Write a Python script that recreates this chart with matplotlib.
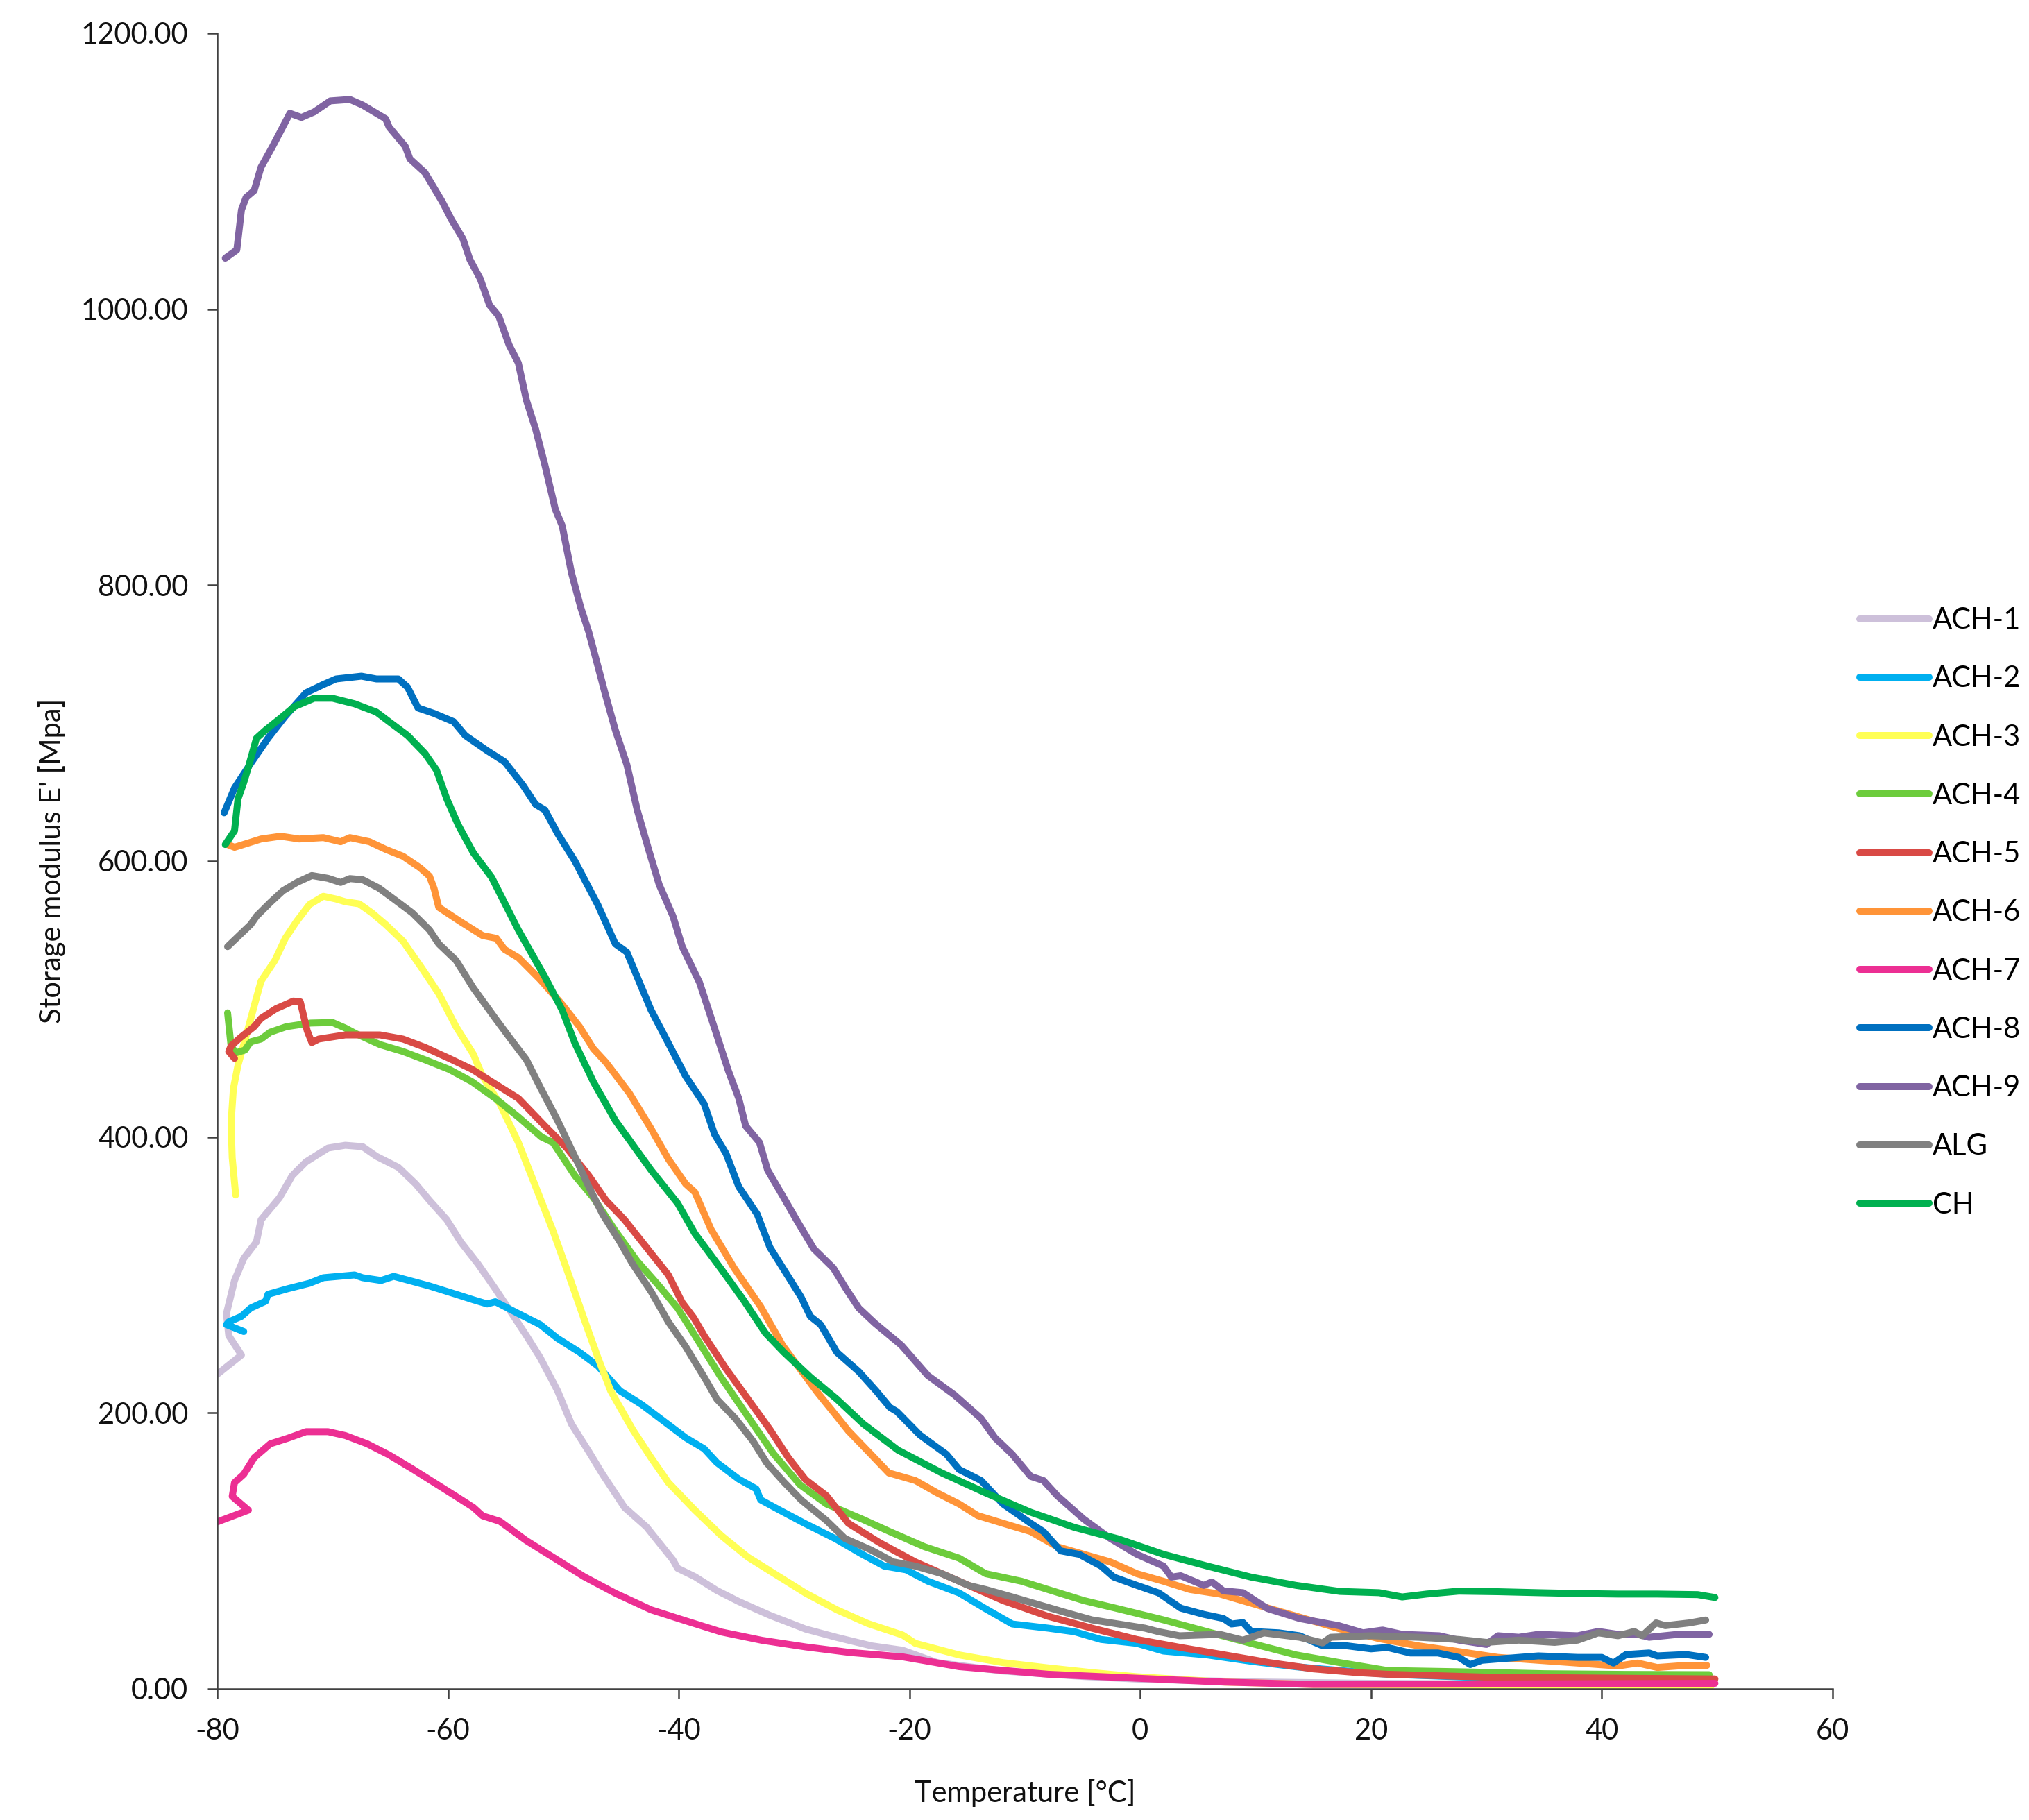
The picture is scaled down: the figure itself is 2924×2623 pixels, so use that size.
import numpy as np
import matplotlib
matplotlib.use("Agg")
import matplotlib.pyplot as plt

plt.rcParams['font.family'] = ['Lato', 'DejaVu Sans']
plt.rcParams['axes.unicode_minus'] = False

# (temperature [°C], storage modulus [MPa])
ach1 = [(-80.0, 228), (-77.9, 242), (-79.0, 256), (-79.2, 272), (-78.5, 296), (-77.7, 312),
        (-76.6, 324), (-76.2, 340), (-75.4, 348), (-74.6, 356), (-73.5, 372), (-72.3, 382),
        (-70.4, 392), (-68.9, 394), (-67.4, 393), (-66.2, 386), (-64.3, 378), (-62.8, 366),
        (-61.6, 354), (-60.1, 340), (-58.9, 324), (-57.4, 308), (-55.9, 290), (-54.3, 270),
        (-53.2, 256), (-52.0, 240), (-50.5, 216), (-49.3, 192), (-47.8, 172), (-46.6, 155.5),
        (-44.7, 131.5), (-42.8, 117.4), (-40.5, 93.4), (-40.1, 87.4), (-38.6, 81.3),
        (-36.7, 71.3), (-34.8, 63.3), (-32.1, 53.3), (-29.0, 43.3), (-26.3, 37.3),
        (-23.3, 31.2), (-20.6, 28), (-17.6, 19), (-12, 13), (-5, 9), (0, 7), (10, 5),
        (20, 4), (35, 3.5), (49.5, 3.2)]

ach2 = [(-77.7, 259), (-79.2, 264), (-79.0, 266), (-77.9, 270), (-77.1, 276), (-75.8, 281),
        (-75.6, 286), (-73.9, 290), (-72.0, 294), (-70.8, 298), (-68.1, 300), (-67.4, 298),
        (-65.8, 296), (-64.7, 299), (-61.6, 292), (-59.3, 286), (-57.8, 282), (-56.6, 279),
        (-55.9, 280.6), (-53.9, 272), (-52.0, 264), (-50.5, 254), (-48.6, 244), (-47.0, 234),
        (-45.1, 216), (-43.2, 206), (-41.3, 194), (-39.4, 182), (-37.8, 174), (-36.7, 164),
        (-34.8, 152), (-33.3, 145), (-32.9, 137), (-31.0, 128.4), (-29.1, 120),
        (-26.4, 108.7), (-24.1, 97.5), (-22.2, 89), (-20.3, 86.3), (-18.4, 78),
        (-15.7, 69.5), (-13.4, 58), (-11.1, 47), (-8.0, 44), (-5.7, 41.4), (-3.4, 35.8),
        (-0.3, 33), (2.0, 27.4), (5.8, 24.6), (9.6, 20), (13.5, 16), (17.3, 13.3),
        (21.4, 10.6), (30, 8), (40, 6.5), (49.5, 6)]

ach3 = [(-78.4, 358), (-78.7, 385), (-78.8, 410), (-78.6, 435), (-78.2, 452), (-77.6, 470),
        (-76.7, 498), (-76.2, 513), (-75.0, 528), (-74.1, 544), (-73.1, 556.5),
        (-72.0, 568.5), (-70.8, 574.5), (-69.7, 572.5), (-68.9, 570.5), (-67.7, 569),
        (-66.6, 562.5), (-65.4, 554), (-63.9, 542), (-62.4, 524), (-60.8, 504), (-59.3, 480),
        (-57.8, 460), (-57.0, 444), (-55.5, 424), (-53.9, 396), (-52.4, 364), (-50.9, 332),
        (-49.7, 304), (-48.2, 268), (-47.0, 240), (-45.9, 216), (-44.0, 188), (-42.4, 167.5),
        (-40.9, 149.5), (-38.6, 129.5), (-36.3, 111), (-34.0, 95.4), (-31.7, 83.4),
        (-29.0, 69.3), (-26.3, 57.3), (-23.6, 47.3), (-20.6, 39), (-19.5, 33),
        (-15.7, 24.6), (-11.9, 19), (-8.0, 15.2), (-4.2, 11.8), (-0.3, 8.8), (7.3, 4.9),
        (15.0, 3.2), (30.0, 2.5), (49.5, 2.3)]

ach4 = [(-79.1, 490), (-78.8, 466), (-78.4, 461), (-77.6, 463), (-77.1, 469), (-76.2, 471),
        (-75.4, 476), (-74.0, 480), (-71.9, 482.6), (-70.0, 483), (-68.9, 479), (-68.0, 475),
        (-65.9, 467), (-63.9, 462), (-62.0, 456), (-59.9, 449), (-57.9, 440), (-55.9, 428),
        (-53.9, 414.5), (-51.9, 400), (-50.9, 396), (-49.0, 372), (-47.4, 356), (-45.5, 332),
        (-43.6, 310), (-41.7, 292), (-40.1, 276), (-38.7, 257.5), (-36.4, 226.6),
        (-34.1, 198.5), (-31.8, 170.5), (-29.5, 148), (-27.2, 134), (-24.1, 123),
        (-21.8, 114.3), (-18.7, 103), (-15.7, 94.7), (-13.4, 83.5), (-10.3, 78), (-8.0, 72),
        (-4.9, 64), (-1.9, 58), (2.0, 50), (5.8, 41.4), (9.6, 33), (13.5, 24.6),
        (17.3, 19), (21.4, 13.3), (27.6, 12.4), (35, 11), (42, 10.5), (49.3, 10.3)]

ach5 = [(-78.5, 457), (-79.0, 462), (-78.8, 466), (-78.0, 472), (-76.8, 480), (-76.2, 486),
        (-74.9, 493), (-73.4, 498.5), (-72.8, 498), (-72.2, 477), (-71.8, 468.5),
        (-71.2, 471), (-68.9, 474), (-65.9, 474), (-63.9, 471), (-62.0, 465), (-59.9, 457),
        (-57.9, 449), (-56.2, 440), (-53.9, 428), (-51.6, 408), (-49.7, 392), (-47.8, 372),
        (-46.3, 354), (-44.7, 340), (-42.8, 320), (-40.9, 300), (-39.7, 280), (-38.7, 269),
        (-37.8, 256), (-35.9, 232), (-34.0, 210), (-32.1, 188), (-30.5, 167.5),
        (-29.0, 151.5), (-27.2, 140), (-25.3, 120), (-22.6, 106), (-19.5, 92), (-15.7, 78),
        (-11.9, 64), (-8.0, 52.6), (-4.2, 44), (-0.3, 35.8), (3.5, 30), (7.3, 24.6),
        (11.2, 19), (15.0, 14.5), (18.8, 11.8), (21.4, 10.6), (30, 8.5), (40, 7.8),
        (49.8, 7.2)]

ach6 = [(-79.1, 612), (-78.5, 610), (-76.2, 616), (-74.5, 618), (-72.9, 616), (-70.8, 617),
        (-69.3, 614), (-68.5, 617), (-66.8, 614), (-65.4, 608.5), (-63.9, 603.5),
        (-62.4, 595), (-61.6, 589), (-61.2, 580), (-60.8, 566.5), (-58.9, 556), (-57.0, 546),
        (-55.8, 544), (-55.1, 536), (-53.9, 530), (-52.0, 514), (-50.1, 496), (-48.6, 480),
        (-47.4, 464), (-46.3, 454), (-44.3, 432), (-42.4, 406), (-40.9, 384), (-39.4, 366),
        (-38.6, 360), (-37.2, 333), (-35.2, 305), (-32.9, 277), (-31.0, 249), (-29.5, 232),
        (-28.0, 215), (-26.4, 198.5), (-25.3, 187), (-23.4, 170.5), (-21.8, 156.5),
        (-19.5, 151), (-17.6, 142), (-15.7, 134), (-14.1, 125.6), (-11.9, 120), (-9.5, 114),
        (-7.2, 103), (-4.9, 97.5), (-2.6, 92), (-0.3, 83.5), (2.0, 78), (4.3, 72),
        (6.9, 68.7), (10.3, 60.4), (13.8, 52), (17.2, 43.7), (20.7, 36.4), (24.1, 31.2),
        (27.6, 27), (31.0, 22.8), (34.5, 20.7), (37.9, 18.7), (41.4, 16.6), (43.1, 18.7),
        (44.8, 15.5), (46.6, 16.6), (49.1, 17.0)]

ach7 = [(-80.0, 121), (-77.3, 129.5), (-78.7, 139.5), (-78.5, 149.5), (-77.7, 155.5),
        (-76.8, 167.5), (-75.4, 177.6), (-73.9, 181.6), (-72.3, 186.4), (-70.4, 186.4),
        (-68.9, 183.6), (-67.0, 177.6), (-65.1, 169.5), (-63.1, 159.5), (-61.2, 149.5),
        (-59.3, 139.5), (-57.8, 131.5), (-57.0, 125.4), (-55.5, 121.4), (-53.2, 107.4),
        (-50.9, 95.4), (-48.2, 81.3), (-45.5, 69.3), (-42.4, 57.3), (-39.4, 49.3),
        (-36.3, 41.2), (-32.8, 35.2), (-29.0, 30.4), (-25.2, 26.4), (-20.6, 23.2),
        (-15.7, 16.1), (-8.0, 10.6), (-0.3, 7.7), (7.3, 4.9), (15.0, 3.2), (30, 3.5),
        (49.8, 4)]

ach8 = [(-79.4, 635), (-78.5, 653), (-77.0, 672), (-75.6, 689), (-74.1, 705), (-72.3, 722),
        (-70.8, 728), (-69.7, 732), (-67.5, 734), (-66.2, 732), (-64.3, 732), (-63.5, 726),
        (-62.6, 711), (-61.2, 707), (-59.5, 701), (-58.5, 691), (-56.6, 680), (-55.1, 672),
        (-53.5, 655), (-52.4, 641), (-51.6, 637), (-50.5, 620), (-49.0, 600), (-47.0, 568),
        (-45.5, 540), (-44.5, 534), (-43.6, 516), (-42.4, 492), (-40.9, 468), (-39.4, 444),
        (-37.8, 424), (-36.9, 402), (-35.9, 388), (-34.8, 364), (-33.2, 344), (-32.1, 320),
        (-30.9, 304), (-29.4, 284), (-28.6, 270), (-27.7, 264), (-26.3, 244), (-24.4, 230),
        (-22.9, 216), (-21.7, 204), (-21.1, 201), (-19.1, 184), (-16.8, 170), (-15.7, 159),
        (-13.8, 151), (-11.9, 134), (-9.5, 120), (-8.4, 114), (-6.9, 100), (-5.3, 97.5),
        (-3.4, 89), (-2.3, 81), (-0.3, 75), (1.6, 69.5), (3.5, 58.5), (5.5, 54), (7.2, 51),
        (7.9, 47), (8.9, 48), (9.6, 41.6), (12.0, 40.6), (13.8, 38.5), (15.8, 31.2),
        (17.9, 31.2), (20.0, 29), (21.4, 30), (23.4, 26), (25.8, 26), (27.6, 22.8),
        (28.6, 17.6), (29.6, 20.7), (32.8, 22.8), (34.5, 23.9), (37.9, 22.8), (40.0, 22.8),
        (41.0, 18.7), (42.1, 24.9), (44.1, 26), (44.8, 23.9), (47.3, 24.9), (49.0, 22.8)]

ach9 = [(-79.3, 1037), (-78.3, 1043), (-77.9, 1072), (-77.5, 1081), (-76.8, 1086),
        (-76.2, 1103), (-75.2, 1118), (-73.7, 1142), (-72.7, 1139), (-71.6, 1143),
        (-70.2, 1151), (-68.5, 1152), (-67.4, 1148), (-65.4, 1138), (-65.1, 1132),
        (-63.7, 1118), (-63.3, 1109), (-62.0, 1099), (-60.5, 1078), (-59.7, 1065),
        (-58.7, 1051), (-58.1, 1036), (-57.2, 1022), (-56.4, 1003), (-55.6, 995),
        (-54.7, 974), (-53.9, 961), (-53.2, 934), (-52.4, 913), (-51.6, 887), (-50.7, 855),
        (-50.1, 843), (-49.3, 809), (-48.5, 784), (-47.8, 766), (-47.0, 741), (-46.4, 722),
        (-45.5, 695), (-44.5, 670), (-43.6, 637), (-42.6, 608), (-41.7, 583), (-40.5, 560),
        (-39.7, 538), (-38.2, 512), (-37.1, 484), (-35.7, 448), (-34.8, 428), (-34.2, 408),
        (-33.0, 396), (-32.3, 376), (-30.9, 356), (-29.8, 340), (-28.3, 319), (-26.6, 305),
        (-25.5, 290), (-24.4, 276), (-23.0, 265), (-20.7, 249), (-18.4, 227), (-16.1, 213),
        (-13.8, 196), (-12.6, 182), (-11.1, 170), (-9.5, 154), (-8.4, 151), (-7.2, 140),
        (-4.9, 123), (-2.6, 109), (-0.3, 97.5), (2.0, 89), (2.7, 81), (3.5, 82), (5.5, 75),
        (6.2, 77.5), (7.2, 71), (8.9, 69.7), (11.0, 58.3), (13.8, 51), (17.2, 45.8),
        (19.3, 40.6), (21.0, 42.6), (22.7, 39.5), (25.9, 38.5), (27.6, 35.3), (30.0, 32.2),
        (31.0, 38.5), (32.8, 37.4), (34.5, 39.5), (37.9, 38.5), (39.7, 41.6), (41.4, 39.5),
        (43.1, 39.5), (44.1, 37.4), (46.6, 39.5), (49.3, 39.5)]

alg = [(-79.1, 538), (-78.1, 546), (-77.1, 554), (-76.6, 560), (-75.4, 570), (-74.3, 578.5),
       (-73.1, 584.5), (-71.8, 589.5), (-70.4, 587.5), (-69.3, 584.5), (-68.5, 587.3),
       (-67.4, 586.5), (-66.0, 580.5), (-64.7, 572.5), (-63.1, 562.5), (-61.6, 550),
       (-60.8, 540), (-59.3, 528), (-57.8, 508), (-55.9, 486), (-54.3, 468), (-53.2, 456),
       (-52.0, 436), (-50.5, 412), (-48.9, 384), (-47.8, 364), (-46.6, 344), (-45.1, 324),
       (-44.0, 308), (-42.4, 288), (-40.9, 266), (-39.4, 248), (-37.8, 226), (-36.7, 210),
       (-35.1, 196), (-33.6, 180), (-32.4, 164), (-30.9, 150), (-29.4, 137), (-27.2, 122),
       (-25.6, 109), (-23.3, 100.5), (-21.4, 92), (-19.5, 89), (-17.2, 83.5), (-14.9, 75),
       (-13.4, 72), (-11.1, 66.6), (-8.8, 61), (-6.5, 55.4), (-4.2, 50), (-1.9, 47),
       (0.4, 44), (1.6, 41.4), (3.4, 38.5), (6.9, 39.5), (8.9, 35.3), (10.7, 40.6),
       (13.8, 37.4), (15.8, 33.3), (16.5, 37.4), (20.0, 38.5), (24.1, 37.4), (27.6, 35.8),
       (30.0, 33.7), (32.8, 35.3), (35.9, 33.7), (37.9, 35.3), (39.7, 40.6), (41.4, 38.5),
       (42.8, 41.6), (43.5, 38.5), (44.7, 47.8), (45.5, 45.8), (47.6, 47.8), (49.0, 49.9)]

ch = [(-79.3, 612), (-78.5, 622), (-78.2, 645), (-77.7, 657), (-77.3, 668), (-76.6, 689),
      (-75.8, 695), (-74.6, 703), (-73.3, 712), (-71.6, 718), (-70.0, 718), (-68.1, 714),
      (-66.2, 708), (-65.1, 701), (-63.5, 691), (-62.0, 678), (-61.0, 666), (-60.1, 645),
      (-59.1, 626), (-57.8, 606), (-56.2, 588), (-53.9, 550), (-51.6, 516), (-50.1, 492),
      (-49.0, 468), (-47.4, 440), (-45.5, 412), (-42.4, 376), (-40.1, 352), (-38.6, 330),
      (-36.3, 304), (-34.4, 282), (-32.5, 258), (-30.9, 244), (-28.6, 226), (-26.3, 210),
      (-24.0, 192), (-22.1, 180), (-21.0, 173), (-17.2, 156.5), (-13.4, 142), (-9.5, 128),
      (-5.7, 117), (-1.9, 108.7), (2.0, 97.5), (5.8, 89), (9.6, 81), (13.5, 75),
      (17.3, 70.6), (20.7, 69.7), (22.7, 66.6), (24.8, 68.7), (27.6, 70.8), (31.0, 70.4),
      (34.5, 69.7), (37.9, 69.1), (41.4, 68.7), (44.8, 68.7), (48.3, 68.3), (49.8, 66.2)]

series = [
    ('ACH-1', ach1, '#CDC0DA'),
    ('ACH-2', ach2, '#00B0F0'),
    ('ACH-3', ach3, '#FFFF55'),
    ('ACH-4', ach4, '#6DCC3C'),
    ('ACH-5', ach5, '#D94A45'),
    ('ACH-6', ach6, '#FF9438'),
    ('ACH-7', ach7, '#EC2F93'),
    ('ACH-8', ach8, '#0070C0'),
    ('ACH-9', ach9, '#8064A2'),
    ('ALG', alg, '#808080'),
    ('CH', ch, '#00B050'),
]

fig = plt.figure(figsize=(14.62, 13.115), dpi=200)
ax = fig.add_axes([0.10705, 0.07206, 0.79617, 0.90965])

for name, pts, color in series:
    arr = np.array(pts)
    ax.plot(arr[:, 0], arr[:, 1], color=color, lw=3.6, label=name,
            solid_capstyle='round', solid_joinstyle='round')

ax.set_xlim(-80, 60)
ax.set_ylim(0, 1200)
ax.set_xticks(np.arange(-80, 61, 20))
ax.set_yticks(np.arange(0, 1201, 200))
ax.set_yticklabels([f'{v:.2f}' for v in np.arange(0, 1201, 200)])

for side in ['top', 'right']:
    ax.spines[side].set_visible(False)
for side in ['left', 'bottom']:
    ax.spines[side].set_color('#404040')
    ax.spines[side].set_linewidth(0.9)
ax.tick_params(direction='out', length=5, width=0.9, color='#404040',
               labelsize=15, labelcolor='#111111', pad=10)

ax.set_xlabel('Temperature [°C]', fontsize=15, color='#111111', labelpad=18)
ax.set_ylabel("Storage modulus E' [Mpa]", fontsize=15, color='#111111', labelpad=8)

fig.legend(loc='center left', bbox_to_anchor=(0.9166, 0.4985), frameon=False,
           fontsize=15, handlelength=2.4, handletextpad=0.12, labelspacing=1.11,
           borderpad=0, borderaxespad=0)

fig.savefig('out.png', dpi=200)
